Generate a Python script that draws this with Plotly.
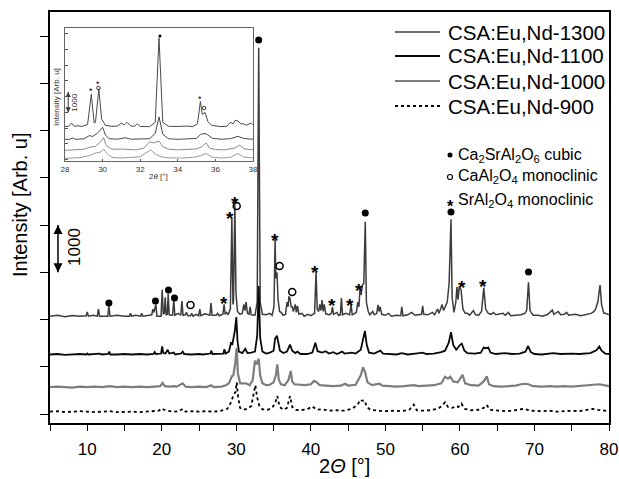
import plotly.graph_objects as go

# ---------------- data ----------------
# raw intensities (counts above each pattern's own baseline), 2theta in degrees
xrd_1300 = [(5.0,0),(6.0,20),(7.0,-10),(8.0,15),(9.0,0),(9.85,10),(10.0,90),(10.15,0),(10.8,20),(11.35,0),(11.5,150),(11.65,0),
 (12.75,0),(12.9,215),(13.05,0),(14.0,20),(15.0,0),(15.65,0),(15.8,60),(15.95,0),(16.5,20),(17.15,0),(17.3,60),(17.45,0),
 (18.3,20),(18.65,30),(18.8,150),(18.95,80),(19.2,250),(19.35,0),(19.9,0),(20.05,560),(20.2,50),(20.35,60),(20.45,400),(20.6,30),
 (20.75,40),(20.85,480),(21.0,30),(21.45,20),(21.6,350),(21.75,20),(22.2,60),(22.55,20),(22.7,320),(22.85,20),(23.15,30),(23.3,80),
 (23.5,10),(23.85,10),(24.0,60),(24.2,0),(24.6,40),(24.95,10),(25.1,150),(25.25,10),(25.8,50),(26.45,20),(26.6,280),(26.75,20),
 (27.3,20),(27.5,60),(27.7,10),(28.2,40),(28.35,250),(28.5,40),(28.7,80),(28.9,30),(29.2,150),(29.4,2080),(29.55,250),(29.62,300),
 (29.8,2400),(29.95,500),(30.15,100),(30.5,40),(30.8,60),(31.0,250),(31.15,120),(31.3,300),(31.5,60),(31.7,40),(31.85,200),(32.0,30),
 (32.5,20),(32.8,300),(33.0,5680),(33.2,300),(33.5,40),(34.0,30),(34.5,60),(34.8,20),(35.05,200),(35.2,1630),(35.3,800),(35.45,930),
 (35.6,350),(35.8,100),(36.0,80),(36.3,20),(36.6,40),(36.8,300),(36.95,200),(37.05,420),(37.2,380),(37.35,200),(37.5,200),(37.65,100),
 (37.9,250),(38.05,80),(38.2,220),(38.4,40),(38.8,60),(39.1,0),(39.6,40),(40.0,10),(40.5,60),(40.7,935),(40.85,150),(41.05,100),
 (41.2,250),(41.35,120),(41.5,340),(41.65,100),(41.8,250),(42.0,50),(42.5,30),(42.75,60),(42.9,195),(43.05,40),(43.5,80),(43.7,20),
 (43.95,30),(44.1,385),(44.25,30),(44.7,60),(45.2,30),(45.4,240),(45.55,30),(46.1,80),(46.3,300),(46.45,200),(46.6,600),(46.75,450),
 (46.9,650),(47.1,700),(47.3,2000),(47.45,300),(47.7,100),(47.9,30),(48.3,100),(48.5,30),(48.85,60),(49.0,240),(49.15,100),(49.3,200),
 (49.5,40),(50.0,20),(50.4,60),(50.8,0),(51.5,20),(52.05,10),(52.2,200),(52.35,10),(53.0,30),(53.5,80),(54.0,20),(54.5,30),(54.85,40),
 (55.0,220),(55.15,40),(55.7,30),(56.3,80),(56.6,30),(57.0,150),(57.2,60),(57.6,250),(57.8,120),(58.0,200),(58.3,300),(58.55,700),
 (58.8,2050),(58.95,400),(59.2,80),(59.45,300),(59.6,620),(59.75,350),(59.9,620),(60.15,560),(60.4,150),(60.7,60),(61.0,60),(61.3,20),
 (61.8,120),(62.1,30),(62.5,20),(62.9,100),(63.2,600),(63.45,150),(63.8,60),(64.2,40),(64.5,80),(64.8,30),(65.3,50),(65.8,60),(66.1,20),
 (66.5,80),(66.8,10),(67.5,20),(68.2,30),(68.7,60),(68.95,120),(69.2,720),(69.4,120),(69.8,20),(70.5,20),(71.0,0),(71.7,30),(72.4,130),
 (72.6,40),(73.2,100),(73.5,30),(74.0,40),(74.3,80),(74.6,20),(75.5,40),(76.2,10),(77.0,30),(77.6,60),(78.0,100),(78.2,150),(78.5,300),
 (78.8,660),(79.0,250),(79.3,60),(79.5,60),(80.0,30)]

xrd_1100 = [(5,0),(6,10),(7,-10),(8,0),(9,10),(9.9,0),(10.0,20),(10.2,0),(11,10),(11.6,20),(12,0),(12.8,10),(12.95,60),(13.1,0),(14,0),
 (15,10),(16,0),(17,10),(18,0),(18.9,10),(19.05,50),(19.2,10),(19.9,20),(20.05,170),(20.2,30),(20.5,20),(20.8,100),(21.0,20),(21.6,40),
 (21.8,0),(22.6,20),(22.8,60),(23.0,10),(24,0),(25,10),(25.5,0),(26.5,20),(26.65,80),(26.8,10),(27.5,10),(28.25,20),(28.4,110),(28.55,20),
 (29.0,60),(29.3,260),(29.45,200),(29.6,300),(29.8,500),(30.0,790),(30.15,300),(30.35,60),(30.8,30),(31.2,120),(31.5,30),(32.0,40),
 (32.5,60),(32.8,400),(33.0,1450),(33.2,350),(33.5,60),(34.0,20),(34.5,40),(35.0,80),(35.2,330),(35.45,400),(35.6,300),(35.85,80),
 (36.3,30),(36.8,60),(37.2,210),(37.5,80),(37.9,30),(38.2,60),(38.6,10),(39.5,10),(40.2,40),(40.6,250),(40.9,70),(41.5,40),(42.0,70),
 (42.4,20),(43.0,50),(43.5,10),(44.2,60),(44.5,20),(45.5,40),(46.0,20),(46.7,100),(47.05,400),(47.25,500),(47.5,200),(47.8,40),
 (48.5,20),(49.3,80),(49.7,20),(50.5,10),(51.5,0),(52.2,30),(53,0),(54,20),(55.0,40),(55.5,10),(56.5,20),(57.5,50),(58.0,80),(58.5,250),
 (58.8,470),(59.1,200),(59.5,100),(60.0,200),(60.25,230),(60.6,80),(61.0,30),(62.0,20),(62.8,40),(63.2,150),(63.5,130),(63.8,150),
 (64.1,40),(64.8,10),(65.5,20),(66.0,30),(67,10),(68.0,20),(68.8,60),(69.15,180),(69.5,50),(70,10),(71,0),(72.5,30),(73.5,10),(75,20),
 (76,10),(77.5,30),(78.3,90),(78.7,170),(79.0,80),(79.5,20),(80,10)]

xrd_1000 = [(5,0),(6,10),(7,0),(8,-10),(9,10),(10,0),(11,10),(12,0),(13,20),(14,0),(15,10),(16,0),(17,10),(18,0),(19,10),(19.8,20),
 (20.1,90),(20.4,20),(21,10),(21.6,20),(22.0,10),(22.8,80),(23.2,10),(24,0),(25,10),(26,0),(26.6,40),(27,0),(28,10),(28.6,40),(29.0,80),
 (29.4,230),(29.6,250),(29.85,500),(30.05,830),(30.2,300),(30.5,80),(31.0,90),(31.3,80),(31.8,40),(32.2,150),(32.5,560),(32.7,480),
 (33.0,600),(33.2,250),(33.5,80),(34.0,40),(34.5,50),(35.0,100),(35.3,250),(35.5,480),(35.7,150),(36.0,60),(36.5,40),(37.0,150),
 (37.3,340),(37.5,120),(37.8,60),(38.5,50),(39.2,40),(40.0,60),(40.4,130),(40.8,100),(41.2,40),(42.0,30),(43.0,20),(44.0,30),(44.6,70),
 (45.0,30),(46.0,50),(46.7,250),(47.0,420),(47.3,300),(47.6,100),(48.2,40),(49.2,70),(49.6,30),(50.5,20),(51.5,10),(52.5,20),(53.8,40),
 (54.5,20),(55.5,30),(56.5,40),(57.5,80),(58.0,220),(58.4,180),(58.7,220),(59.1,120),(59.7,100),(60.35,260),(60.7,80),(61.5,40),
 (62.5,30),(63.2,120),(63.6,230),(63.9,60),(64.5,20),(65.5,10),(66.5,20),(67.5,30),(68.2,60),(68.7,70),(69.2,60),(69.8,20),(71,10),
 (72,20),(73,10),(74,20),(75,10),(76,20),(77,30),(77.8,50),(78.7,60),(79.3,40),(80,20)]

xrd_900 = [(5,0),(6,10),(7,-10),(8,0),(9,10),(10,0),(11,-10),(12,0),(13,10),(14,-10),(15,0),(16,0),(17,-10),(18,0),(19,10),(19.6,20),
 (20.0,70),(20.3,40),(20.7,20),(21.5,0),(22.3,10),(22.8,60),(23.2,0),(24,10),(25,0),(26,10),(27,0),(28,20),(28.8,60),(29.3,200),
 (29.6,350),(29.9,420),(30.05,620),(30.25,300),(30.5,80),(31.0,40),(31.5,60),(32.0,120),(32.35,400),(32.55,560),(32.8,300),(33.1,120),
 (33.5,50),(34.2,40),(34.8,80),(35.2,180),(35.5,330),(35.8,100),(36.3,40),(36.8,80),(37.2,330),(37.5,100),(38.0,40),(38.5,30),(39.5,50),
 (40.2,110),(40.8,40),(41.5,50),(42.5,20),(43.5,30),(44.5,20),(45.5,60),(46.3,150),(46.6,250),(46.9,230),(47.2,240),(47.5,100),
 (48.0,40),(49,20),(50,10),(51,20),(52,10),(53.2,40),(53.8,150),(54.2,30),(55,20),(56,30),(57.0,60),(57.6,120),(58.0,200),(58.4,100),
 (59.0,80),(59.5,120),(59.8,100),(60.2,170),(60.6,60),(61.5,30),(62.5,40),(63.2,80),(63.6,140),(64.0,40),(65,20),(66,10),(67,20),
 (68,40),(68.6,60),(69.5,20),(71,10),(72,20),(73,0),(74,10),(75,20),(76,10),(77,40),(77.8,60),(78.5,40),(79.3,20),(80,10)]

series_names = ["CSA:Eu,Nd-1300", "CSA:Eu,Nd-1100", "CSA:Eu,Nd-1000", "CSA:Eu,Nd-900"]
series_data = [xrd_1300, xrd_1100, xrd_1000, xrd_900]
series_offsets = [2070, 1260, 570, 50]   # vertical stacking offsets (Arb. u)

# phase reflection labels on the 1300 pattern: (2theta, label height)
cubic_theta = [12.9, 19.15, 20.9, 21.7, 33.0, 47.3, 58.8, 69.2]
cubic_level = [2349, 2392, 2624, 2455, 7915, 4254, 4275, 3005]
caal_theta = [23.85, 30.05, 35.8, 37.5]
caal_level = [2307, 4402, 3132, 2582]
sral_theta = [28.4, 29.1, 29.8, 35.15, 40.6, 42.9, 45.3, 46.4, 60.3, 63.1]
sral_level = [2455, 4254, 4571, 3788, 3111, 2413, 2413, 2730, 2794, 2815]

# inset labels
in_dot_theta, in_dot_level = [33.05], [7866]
in_circ_theta, in_circ_level = [29.78, 35.4], [4554, 3280]
in_star_theta, in_star_level = [29.38, 29.76, 35.18], [4490, 4950, 3981]

x_major_ticks = [10, 20, 30, 40, 50, 60, 70, 80]
x_minor_ticks = [5, 15, 25, 35, 45, 55, 65, 75]
y_ticks = [0, 1000, 2000, 3000, 4000, 5000, 6000, 7000, 8000]
inset_x_ticks = [28, 30, 32, 34, 36, 38]

# ---------------- styling ----------------
main_styles = [dict(color="#3c3c3c", width=1.5), dict(color="#0a0a0a", width=1.8),
               dict(color="#7d7d7d", width=2.2), dict(color="#000000", width=1.8, dash="dot")]
inset_styles = [dict(color="#4a4a4a", width=1.0), dict(color="#4a4a4a", width=1.0),
                dict(color="#8a8a8a", width=1.0), dict(color="#9a9a9a", width=1.0)]

W, H = 619, 479
L, R, T, B = 50, 10, 12, 56
PW, PH = W - L - R, H - T - B


def pxx(x):
    return (x - L) / PW


def pxy(y):
    return (H - B - y) / PH


FONT = "Liberation Sans, Arial, sans-serif"
fig = go.Figure()

for name, data, off, st, ist in zip(series_names, series_data, series_offsets, main_styles, inset_styles):
    xs = [p[0] for p in data]
    ys = [p[1] + off for p in data]
    fig.add_trace(go.Scatter(x=xs, y=ys, mode="lines", line=st, name=name, showlegend=False,
                             xaxis="x", yaxis="y", hoverinfo="skip"))
    xi = [x for x in xs if 27.5 <= x <= 38.5]
    yi = [y for x, y in zip(xs, ys) if 27.5 <= x <= 38.5]
    fig.add_trace(go.Scatter(x=xi, y=yi, mode="lines", line=ist, showlegend=False,
                             xaxis="x2", yaxis="y2", hoverinfo="skip"))

# main phase markers
fig.add_trace(go.Scatter(x=cubic_theta, y=cubic_level, mode="markers", showlegend=False,
                         marker=dict(symbol="circle", size=7, color="black")))
fig.add_trace(go.Scatter(x=caal_theta, y=caal_level, mode="markers", showlegend=False,
                         marker=dict(symbol="circle-open", size=7, color="black", line=dict(width=1.5))))
for t, lv in zip(sral_theta, sral_level):
    fig.add_annotation(x=t, y=lv, text="<b>*</b>", showarrow=False, yshift=-5,
                       xanchor="center", yanchor="middle",
                       font=dict(family=FONT, size=19, color="black"), xref="x", yref="y")

# inset phase markers
fig.add_trace(go.Scatter(x=in_dot_theta, y=in_dot_level, mode="markers", showlegend=False,
                         xaxis="x2", yaxis="y2", marker=dict(symbol="circle", size=3, color="black")))
fig.add_trace(go.Scatter(x=in_circ_theta, y=in_circ_level, mode="markers", showlegend=False,
                         xaxis="x2", yaxis="y2",
                         marker=dict(symbol="circle-open", size=3.5, color="black", line=dict(width=0.8))))
for t, lv in zip(in_star_theta, in_star_level):
    fig.add_annotation(x=t, y=lv, text="*", showarrow=False, yshift=-2, xanchor="center", yanchor="middle",
                       font=dict(family=FONT, size=9, color="black"), xref="x2", yref="y2")

# 1000 scale arrows (double-headed lines drawn as traces with arrow markers)
fig.add_trace(go.Scatter(x=[6.07, 6.07], y=[3000, 4000], mode="lines+markers", showlegend=False,
                         line=dict(color="black", width=1.5),
                         marker=dict(symbol=["arrow-down", "arrow-up"], size=9, color="black",
                                     angleref="up"), hoverinfo="skip"))
fig.add_annotation(x=8.2, y=3534, text="1000", textangle=-90, showarrow=False,
                   xanchor="center", yanchor="middle",
                   font=dict(family=FONT, size=17, color="black"), xref="x", yref="y")
fig.add_trace(go.Scatter(x=[28.17, 28.17], y=[3000, 4300], mode="lines+markers", showlegend=False,
                         xaxis="x2", yaxis="y2", line=dict(color="#333", width=1),
                         marker=dict(symbol=["arrow-down", "arrow-up"], size=5, color="#333"),
                         hoverinfo="skip"))
fig.add_annotation(x=28.52, y=3600, text="1000", textangle=-90, showarrow=False,
                   xanchor="center", yanchor="middle",
                   font=dict(family=FONT, size=8, color="#333"), xref="x2", yref="y2")

# axis titles
def paper_text(x, y, text, size, color="black", angle=0, xanchor="center"):
    fig.add_annotation(x=pxx(x), y=pxy(y), xref="paper", yref="paper", text=text, textangle=angle,
                       showarrow=False, xanchor=xanchor, yanchor="middle",
                       font=dict(family=FONT, size=size, color=color))


paper_text(20, 205, "Intensity [Arb. u]", 20, angle=-90)
paper_text(344, 466, "2<i>Θ</i> [°]", 20)
paper_text(57, 97, "Intensity [Arb. u]", 8, color="#333", angle=-90)
paper_text(158, 177, "2<i>θ</i> [°]", 8, color="#333")

# manual legend
leg_rows = [32, 56, 81, 106]
for name, st, ry in zip(series_names, main_styles, leg_rows):
    fig.add_shape(type="line", xref="paper", yref="paper", x0=pxx(395), x1=pxx(440), y0=pxy(ry), y1=pxy(ry),
                  line=dict(color=st["color"], width=st["width"], dash=st.get("dash", "solid")))
    paper_text(446, ry, name, 20.5, xanchor="left")

phase_rows = [155, 177, 200]
phase_texts = ["Ca<sub>2</sub>SrAl<sub>2</sub>O<sub>6</sub> cubic",
               "CaAl<sub>2</sub>O<sub>4</sub> monoclinic",
               "SrAl<sub>2</sub>O<sub>4</sub> monoclinic"]
for txt, ry in zip(phase_texts, phase_rows):
    paper_text(456, ry, txt, 16, xanchor="left")
fig.add_trace(go.Scatter(x=[pxx(450)], y=[pxy(phase_rows[0])], mode="markers", xaxis="x3", yaxis="y3",
                         showlegend=False, marker=dict(symbol="circle", size=5, color="black")))
fig.add_trace(go.Scatter(x=[pxx(450)], y=[pxy(phase_rows[1])], mode="markers", xaxis="x3", yaxis="y3",
                         showlegend=False, marker=dict(symbol="circle-open", size=5, color="black",
                                                       line=dict(width=1.2))))
fig.add_annotation(x=pxx(450), y=pxy(phase_rows[2]), xref="paper", yref="paper", text="<b>*</b>",
                   showarrow=False, yshift=-6, xanchor="center", yanchor="middle",
                   font=dict(family=FONT, size=16, color="black"))

fig.update_layout(
    width=W, height=H, margin=dict(l=L, r=R, t=T, b=B, autoexpand=False),
    paper_bgcolor="white", plot_bgcolor="white", showlegend=False,
    font=dict(family=FONT, color="black"),
    xaxis=dict(range=[5, 80], tickvals=x_major_ticks, ticks="outside", ticklen=6,
               tickwidth=1.3, tickcolor="black", showline=True, linecolor="black", linewidth=1.6,
               minor=dict(tickvals=x_minor_ticks, ticks="outside", ticklen=6, tickwidth=1.3,
                          tickcolor="black", showgrid=False),
               mirror=True, showgrid=False, zeroline=False, tickfont=dict(size=17, family=FONT),
               ticklabelstandoff=4, automargin=False),
    yaxis=dict(range=[-190, 8508], tickvals=y_ticks, showticklabels=False, ticks="outside", ticklen=8,
               tickwidth=1.3, tickcolor="black", showline=True, linecolor="black", linewidth=1.6,
               mirror=True, showgrid=False, zeroline=False, automargin=False),
    xaxis2=dict(domain=[pxx(65), pxx(253)], anchor="y2", range=[28, 38], tickvals=inset_x_ticks,
                ticks="inside", ticklen=2, tickcolor="#555", showline=True, linecolor="#666", linewidth=1,
                mirror=True, showgrid=False, zeroline=False, automargin=False,
                tickfont=dict(size=8, family=FONT, color="#333")),
    yaxis2=dict(domain=[pxy(161), pxy(28)], anchor="x2", range=[-100, 8376], tickvals=y_ticks,
                showticklabels=False, ticks="inside", ticklen=3, tickcolor="#555", showline=True,
                linecolor="#666", linewidth=1, mirror=True, showgrid=False, zeroline=False, automargin=False),
    xaxis3=dict(domain=[0, 1], range=[0, 1], visible=False, overlaying="x", anchor="y3"),
    yaxis3=dict(domain=[0, 1], range=[0, 1], visible=False, overlaying="y", anchor="x3"),
)

fig.write_html("out.html")
